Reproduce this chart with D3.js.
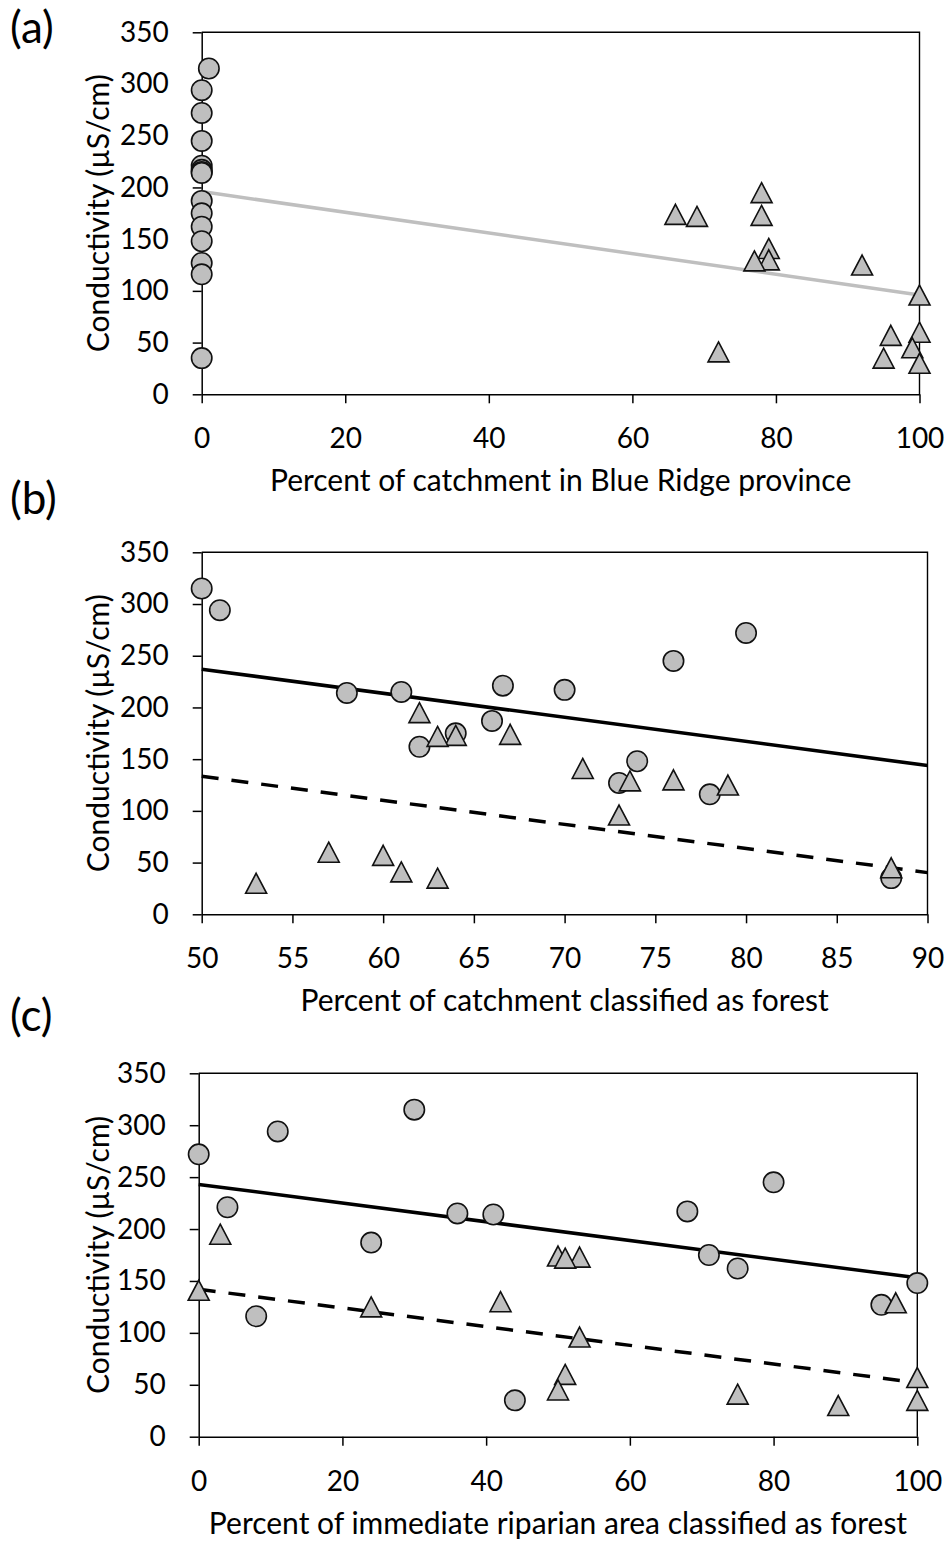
<!DOCTYPE html>
<html>
<head>
<meta charset="utf-8">
<script src="https://cdn.jsdelivr.net/npm/d3@7"></script>
<style>
  body { margin: 0; background: #fff; }
  svg { display: block; font-family: Lato, "Open Sans", sans-serif; }
</style>
</head>
<body>
<svg id="chart" width="949" height="1542"></svg>
<script>
// Sites on non-Blue Ridge geology (circles)
const circleConductivity = [315, 294, 272, 245, 221, 217, 215, 214, 187, 175, 162, 148, 127, 116, 35];
const circleBlueRidge    = [1, 0, 0, 0, 0, 0, 0, 0, 0, 0, 0, 0, 0, 0, 0];
const circleForest       = [50, 51, 80, 76, 66.6, 70, 61, 58, 66, 64, 62, 74, 73, 78, 88];
const circleRiparian     = [30, 11, 0, 80, 4, 68, 36, 41, 24, 71, 75, 100, 95, 8, 44];

// Sites mostly within the Blue Ridge province (triangles)
const triangleConductivity = [195, 174, 173, 172, 141, 130, 129, 125, 96, 60, 57, 45, 41, 35, 30];
const triangleBlueRidge    = [78, 66, 78, 69, 79, 79, 77, 92, 100, 100, 96, 99, 72, 95, 100];
const triangleForest       = [62, 67, 64, 63, 71, 76, 73.6, 79, 73, 57, 60, 88, 61, 63, 53];
const triangleRiparian     = [3, 50, 53, 51, 0, 42, 97, 24, 53, 51, 100, 50, 75, 100, 89];

// Fitted lines: [intercept, slope]
const fitAllBlueRidge     = [196, -1.0];
const fitCircleForest     = [353.5, -2.33];
const fitTriangleForest   = [250, -2.33];
const fitCircleRiparian   = [243, -0.9];
const fitTriangleRiparian = [142, -0.9];

// Tick values
const conductivityTicks = [0, 50, 100, 150, 200, 250, 300, 350];
const blueRidgeTicks = [0, 20, 40, 60, 80, 100];
const forestTicks = [50, 55, 60, 65, 70, 75, 80, 85, 90];
const riparianTicks = [0, 20, 40, 60, 80, 100];

// Text
const yTitle = "Conductivity (\u00B5S/cm)";
const panelLabels = ["(a)", "(b)", "(c)"];
const xTitles = [
  "Percent of catchment in Blue Ridge province",
  "Percent of catchment classified as forest",
  "Percent of immediate riparian area classified as forest"
];

const FILL = "#bfbfbf";
const TICK_FS = 28;
const TITLE_FS = 30;
const LABEL_FS = 44;

const panels = [
  { label: panelLabels[0], labelY: 43, top: 32.3, bottom: 394.3, left: 201.7, right: 919.5,
    domain: [0, 100], ticks: blueRidgeTicks, title: xTitles[0],
    xc: circleBlueRidge, xt: triangleBlueRidge,
    fits: [{ coef: fitAllBlueRidge, range: [0, 100], color: FILL, dash: null }] },
  { label: panelLabels[1], labelY: 514, top: 552.3, bottom: 914.3, left: 201.7, right: 927.5,
    domain: [50, 90], ticks: forestTicks, title: xTitles[1],
    xc: circleForest, xt: triangleForest,
    fits: [{ coef: fitCircleForest, range: [50, 90], color: "#000", dash: null },
           { coef: fitTriangleForest, range: [50, 90], color: "#000", dash: "17,13" }] },
  { label: panelLabels[2], labelY: 1031, top: 1073.3, bottom: 1436.7, left: 198.7, right: 917.3,
    domain: [0, 100], ticks: riparianTicks, title: xTitles[2],
    xc: circleRiparian, xt: triangleRiparian,
    fits: [{ coef: fitCircleRiparian, range: [0, 100], color: "#000", dash: null },
           { coef: fitTriangleRiparian, range: [0, 100], color: "#000", dash: "17,13" }] }
];

const svg = d3.select("#chart");
svg.append("rect").attr("width", 949).attr("height", 1542).attr("fill", "#fff");

// triangle marker, centred on its bounding box
const triPath = (w, h) => `M0,${-h / 2}L${w / 2},${h / 2}L${-w / 2},${h / 2}Z`;

panels.forEach(p => {
  const x = d3.scaleLinear().domain(p.domain).range([p.left, p.right]);
  const y = d3.scaleLinear().domain([0, 350]).range([p.bottom, p.top]);
  const g = svg.append("g");

  // plot-area border (top and right)
  g.append("path")
    .attr("d", `M${p.left},${p.top}H${p.right}V${p.bottom}`)
    .attr("fill", "none").attr("stroke", "#000").attr("stroke-width", 1.4);

  // axes
  const xAxis = g.append("g")
    .attr("transform", `translate(0,${p.bottom})`)
    .call(d3.axisBottom(x).tickValues(p.ticks).tickSize(9).tickSizeOuter(0).tickPadding(45 - 0.71 * TICK_FS));
  const yAxis = g.append("g")
    .attr("transform", `translate(${p.left},0)`)
    .call(d3.axisLeft(y).tickValues(conductivityTicks).tickSize(9).tickSizeOuter(0).tickPadding(24));
  [xAxis, yAxis].forEach(a => {
    a.attr("color", "#000");
    a.selectAll("path, line").attr("stroke-width", 1.5);
    a.selectAll("text").attr("font-size", TICK_FS).attr("font-family", "Lato, 'Open Sans', sans-serif");
  });

  // fitted lines (drawn beneath the markers)
  p.fits.forEach(f => {
    g.append("line")
      .attr("x1", x(f.range[0])).attr("y1", y(f.coef[0] + f.coef[1] * f.range[0]))
      .attr("x2", x(f.range[1])).attr("y2", y(f.coef[0] + f.coef[1] * f.range[1]))
      .attr("stroke", f.color).attr("stroke-width", 3.5)
      .attr("stroke-dasharray", f.dash);
  });

  // circles
  g.selectAll("circle.site")
    .data(circleConductivity.map((v, i) => [p.xc[i], v]))
    .join("circle")
    .attr("class", "site")
    .attr("cx", d => x(d[0])).attr("cy", d => y(d[1]))
    .attr("r", 10.2)
    .attr("fill", FILL).attr("stroke", "#111").attr("stroke-width", 1.6);

  // triangles
  g.selectAll("path.site")
    .data(triangleConductivity.map((v, i) => [p.xt[i], v]))
    .join("path")
    .attr("class", "site")
    .attr("transform", d => `translate(${x(d[0])},${y(d[1])})`)
    .attr("d", triPath(21, 20))
    .attr("fill", FILL).attr("stroke", "#111").attr("stroke-width", 1.6)
    .attr("stroke-linejoin", "miter");

  // titles
  g.append("text")
    .attr("x", (p.left + p.right) / 2).attr("y", p.bottom + 97)
    .attr("text-anchor", "middle").attr("font-size", TITLE_FS)
    .text(p.title);
  g.append("text")
    .attr("transform", `translate(109,${(p.top + p.bottom) / 2}) rotate(-90)`)
    .attr("text-anchor", "middle").attr("font-size", TITLE_FS)
    .text(yTitle);
  g.append("text")
    .attr("x", 10).attr("y", p.labelY)
    .attr("font-size", LABEL_FS)
    .text(p.label);
});
</script>
</body>
</html>
